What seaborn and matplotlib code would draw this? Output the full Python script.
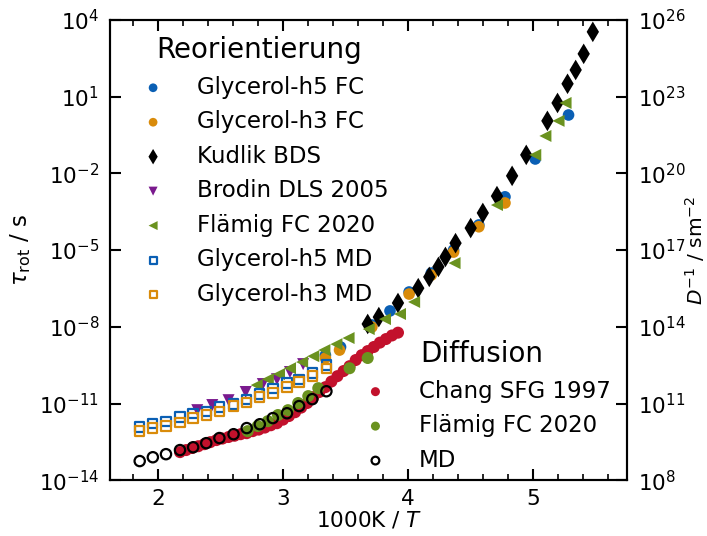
import numpy as np
import pandas as pd
import matplotlib
matplotlib.use("Agg")
import matplotlib.pyplot as plt
import seaborn as sns
from matplotlib.ticker import MultipleLocator, FixedLocator, NullLocator, LogFormatterMathtext

# ---------------- data (x = 1000K/T, values = log10) ----------------
kudlik_x = [5.476, 5.403, 5.339, 5.274, 5.194, 5.113, 4.944, 4.831, 4.710, 4.597,
            4.500, 4.379, 4.298, 4.242, 4.169, 4.081, 3.919, 3.766, 3.677]
kudlik_logtau = [3.53, 2.67, 2.04, 1.50, 0.75, 0.05, -1.28, -2.10, -2.89, -3.55,
                 -4.14, -4.73, -5.27, -5.66, -6.05, -6.49, -7.07, -7.62, -7.89]

h5fc_x = [5.282, 5.016, 4.774, 4.565, 4.363, 4.185, 4.008, 3.855, 3.710, 3.460, 3.339]
h5fc_logtau = [0.28, -1.44, -2.92, -4.02, -5.00, -5.90, -6.64, -7.38, -7.93, -8.79, -9.11]

h3fc_x = [4.774, 4.565, 4.363, 4.185, 4.008, 3.710, 3.452, 3.339]
h3fc_logtau = [-3.16, -4.09, -5.08, -5.98, -6.72, -8.01, -8.91, -9.22]

brodin_x = [2.315, 2.435, 2.565, 2.702, 2.839, 2.952, 3.056, 3.161]
brodin_logtau = [-11.26, -11.06, -10.87, -10.55, -10.24, -10.05, -9.77, -9.46]

flaemig_rot_x = [2.790, 2.879, 2.968, 3.056, 3.153, 3.242, 3.331, 3.427, 3.524, 3.685,
                 3.815, 3.935, 4.048, 4.371, 4.710, 5.016, 5.097, 5.202, 5.258]
flaemig_rot_logtau = [-10.28, -10.05, -9.85, -9.62, -9.38, -9.15, -8.91, -8.68, -8.44, -8.09,
                      -7.70, -7.50, -7.03, -5.51, -3.24, -1.28, -0.54, 0.05, 0.75]

md_x = [1.855, 1.960, 2.065, 2.177, 2.282, 2.387, 2.492, 2.605, 2.710, 2.815,
        2.919, 3.032, 3.129, 3.234, 3.347]
h5md_logtau = [-11.92, -11.77, -11.69, -11.53, -11.38, -11.30, -11.14, -11.02, -10.83, -10.63,
               -10.40, -10.20, -10.05, -9.81, -9.50]
h3md_logtau = [-12.08, -11.96, -11.88, -11.73, -11.57, -11.45, -11.30, -11.10, -10.95, -10.75,
               -10.59, -10.36, -10.16, -9.93, -9.62]
md_logDinv = [8.75, 8.90, 9.02, 9.18, 9.29, 9.45, 9.65, 9.80, 10.04, 10.19,
              10.43, 10.62, 10.90, 11.17, 11.48]

chang_x = [2.177, 2.226, 2.274, 2.323, 2.371, 2.419, 2.468, 2.516, 2.565, 2.613,
           2.661, 2.710, 2.758, 2.806, 2.855, 2.903, 2.952, 3.000, 3.048, 3.097,
           3.145, 3.194, 3.242, 3.290, 3.339, 3.387, 3.435, 3.484, 3.532, 3.581,
           3.629, 3.677, 3.726, 3.774, 3.823, 3.871, 3.919]
chang_logDinv = [9.10, 9.18, 9.26, 9.33, 9.41, 9.49, 9.57, 9.63, 9.69, 9.74,
                 9.80, 9.84, 9.92, 9.98, 10.06, 10.15, 10.23, 10.37, 10.51, 10.66,
                 10.84, 11.02, 11.25, 11.45, 11.64, 11.86, 12.07, 12.27, 12.46, 12.70,
                 12.89, 13.05, 13.21, 13.38, 13.52, 13.66, 13.77]

flaemig_diff_x = [2.718, 2.798, 2.879, 2.960, 3.040, 3.121, 3.202, 3.282, 3.532, 3.677]
flaemig_diff_logDinv = [9.92, 10.12, 10.31, 10.55, 10.74, 11.02, 11.29, 11.60, 12.38, 12.78]

left_ticks = [-14, -11, -8, -5, -2, 1, 4]
right_ticks = [8, 11, 14, 17, 20, 23, 26]
x_ticks = [2, 3, 4, 5]

# ---------------- colours ----------------
C_BLUE = "#0a5fb4"
C_ORANGE = "#d98b0a"
C_GREEN = "#6a921f"
C_PURPLE = "#7a1a8e"
C_RED = "#c2112c"

sns.set_style("ticks", rc={"text.color": "black", "axes.labelcolor": "black",
                           "xtick.color": "black", "ytick.color": "black",
                           "axes.edgecolor": "black"})
plt.rcParams["font.family"] = ["DejaVu Sans"]
plt.rcParams["mathtext.fontset"] = "dejavusans"

fig = plt.figure(figsize=(7.07, 5.36), dpi=100)
ax = fig.add_axes([0.156, 0.104, 0.731, 0.859])
ax2 = ax.twinx()

def df(x, logv):
    return pd.DataFrame({"x": x, "y": 10.0 ** np.asarray(logv)})

# rotation data
sns.scatterplot(data=df(h5fc_x, h5fc_logtau), x="x", y="y", ax=ax, marker="o", s=70,
                color=C_BLUE, edgecolor="none", label="Glycerol-h5 FC", zorder=3)
sns.scatterplot(data=df(h3fc_x, h3fc_logtau), x="x", y="y", ax=ax, marker="o", s=70,
                color=C_ORANGE, edgecolor="none", label="Glycerol-h3 FC", zorder=3)
sns.scatterplot(data=df(kudlik_x, kudlik_logtau), x="x", y="y", ax=ax, marker="d", s=110,
                color="black", edgecolor="none", label="Kudlik BDS", zorder=3)
sns.scatterplot(data=df(brodin_x, brodin_logtau), x="x", y="y", ax=ax, marker="v", s=75,
                color=C_PURPLE, edgecolor="none", label="Brodin DLS 2005", zorder=3)
sns.scatterplot(data=df(flaemig_rot_x, flaemig_rot_logtau), x="x", y="y", ax=ax, marker="<", s=75,
                color=C_GREEN, edgecolor="none", label="Flämig FC 2020", zorder=3)
sns.scatterplot(data=df(md_x, h5md_logtau), x="x", y="y", ax=ax, marker="s", s=45,
                facecolor="none", edgecolor=C_BLUE, linewidth=1.6, label="Glycerol-h5 MD", zorder=3)
sns.scatterplot(data=df(md_x, h3md_logtau), x="x", y="y", ax=ax, marker="s", s=45,
                facecolor="none", edgecolor=C_ORANGE, linewidth=1.6, label="Glycerol-h3 MD", zorder=3)

# diffusion data
sns.scatterplot(data=df(chang_x, chang_logDinv), x="x", y="y", ax=ax2, marker="o", s=75,
                color=C_RED, edgecolor="none", label="Chang SFG 1997", zorder=3)
sns.scatterplot(data=df(flaemig_diff_x, flaemig_diff_logDinv), x="x", y="y", ax=ax2, marker="o", s=75,
                color=C_GREEN, edgecolor="none", label="Flämig FC 2020", zorder=3)
sns.scatterplot(data=df(md_x, md_logDinv), x="x", y="y", ax=ax2, marker="o", s=55,
                facecolor="none", edgecolor="black", linewidth=1.6, label="MD", zorder=3)

# axes setup
for a in (ax, ax2):
    a.set_yscale("log")
    a.set_xlim(1.62, 5.75)
ax.set_ylim(1e-14, 1e4)
ax2.set_ylim(1e8, 1e26)

ax.xaxis.set_major_locator(FixedLocator(x_ticks))
ax.xaxis.set_minor_locator(MultipleLocator(0.2))
ax.yaxis.set_major_locator(FixedLocator([10.0 ** t for t in left_ticks]))
ax.yaxis.set_minor_locator(NullLocator())
ax.yaxis.set_major_formatter(LogFormatterMathtext())
ax2.yaxis.set_major_locator(FixedLocator([10.0 ** t for t in right_ticks]))
ax2.yaxis.set_minor_locator(NullLocator())
ax2.yaxis.set_major_formatter(LogFormatterMathtext())

ax.tick_params(axis="both", which="major", direction="in", length=8, width=1.5,
               labelsize=15.5, top=True, right=False, pad=8, color="black")
ax.tick_params(axis="x", which="major", pad=6)
ax.tick_params(axis="x", which="minor", direction="in", length=4, width=1.2, top=True,
               bottom=True, color="black")
ax2.tick_params(axis="y", which="major", direction="in", length=8, width=1.5,
                labelsize=15.5, pad=8, color="black")
for a in (ax, ax2):
    for sp in a.spines.values():
        sp.set_linewidth(1.5)
        sp.set_visible(True)
        sp.set_color("black")

ax.set_xlabel("1000K / $T$", fontsize=15.5, labelpad=1)
ax.set_ylabel(r"$\tau_{\mathrm{rot}}$ / s", fontsize=16.5, labelpad=4)
ax2.set_ylabel(r"$D^{-1}$ / sm$^{-2}$", fontsize=14.5, labelpad=-2)

# legends
h1, l1 = ax.get_legend_handles_labels()
h2, l2 = ax2.get_legend_handles_labels()
if ax.get_legend() is not None:
    ax.get_legend().remove()
if ax2.get_legend() is not None:
    ax2.get_legend().remove()

leg1 = ax2.legend(h1, l1, title="Reorientierung", loc="upper left", bbox_to_anchor=(0.003, 1.004),
                  frameon=False, fontsize=16.5, title_fontsize=20, markerscale=0.75,
                  handletextpad=0.9, labelspacing=0.5, borderpad=0.3)
ax2.add_artist(leg1)
leg2 = ax2.legend(h2, l2, title="Diffusion", loc="lower right", bbox_to_anchor=(1.004, -0.021),
                  frameon=False, fontsize=16.5, title_fontsize=20, markerscale=0.75,
                  handletextpad=0.9, labelspacing=0.5, borderpad=0.3)

fig.savefig("out.png", dpi=100)
